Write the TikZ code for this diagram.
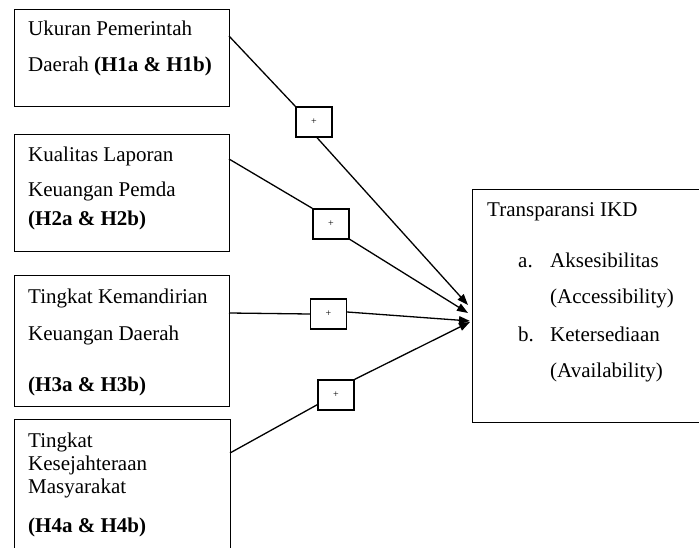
\documentclass[tikz,border=0pt]{standalone}
\usepackage{fontspec}
\setmainfont{Liberation Serif}
\usetikzlibrary{arrows.meta,calc}
\begin{document}
\begin{tikzpicture}[x=1pt,y=-1pt,
  box/.style={draw,line width=1.4pt,inner sep=0pt,anchor=north west},
  pbox/.style={draw,line width=1.3pt,inner sep=0pt,minimum width=36pt,minimum height=30pt,font=\fontsize{10}{12}\selectfont},
  txt/.style={anchor=base west,inner sep=0pt,font=\fontsize{21}{24}\selectfont},
  conn/.style={line width=1.3pt},
  arr/.style={line width=1.3pt,-{Triangle[length=11pt,width=8pt]}}]
\useasboundingbox (0,0) rectangle (699,548);
\clip (0,0) rectangle (699,548);
% source boxes
\node[box,minimum width=215pt,minimum height=97pt] (b1) at (14,9) {};
\node[box,minimum width=215pt,minimum height=117pt] (b2) at (14,134) {};
\node[box,minimum width=215pt,minimum height=131pt] (b3) at (14,275) {};
\node[box,minimum width=216pt,minimum height=150pt] (b4) at (14,419) {};
% target box
\node[box,minimum width=250pt,minimum height=233pt] (t) at (472,189) {};
% texts
\node[txt] (t11) at (28,36) {Ukuran Pemerintah};
\node[txt] (t12) at (28,72) {Daerah \textbf{(H1a \& H1b)}};
\node[txt] (t21) at (28,162) {Kualitas Laporan};
\node[txt] (t22) at (28,197) {Keuangan Pemda};
\node[txt] (t23) at (28,226) {\textbf{(H2a \& H2b)}};
\node[txt] (t31) at (28,303) {Tingkat Kemandirian};
\node[txt] (t32) at (28,340) {Keuangan Daerah};
\node[txt] (t33) at (28,391) {\textbf{(H3a \& H3b)}};
\node[txt] (t41) at (28,447) {Tingkat};
\node[txt] (t42) at (28,470) {Kesejahteraan};
\node[txt] (t43) at (28,493) {Masyarakat};
\node[txt] (t44) at (28,532) {\textbf{(H4a \& H4b)}};
\node[txt] (r0) at (487,217) {Transparansi IKD};
\node[txt] (ra) at (518,268) {a.};
\node[txt] (ra1) at (550,268) {Aksesibilitas};
\node[txt] (ra2) at (550,303) {(Accessibility)};
\node[txt] (rb) at (518,341) {b.};
\node[txt] (rb1) at (550,341) {Ketersediaan};
\node[txt] (rb2) at (550,377) {(Availability)};
% plus boxes
\node[pbox] (p1) at (314,122) {+};
\node[pbox] (p2) at (331,224) {+};
\node[pbox] (p3) at (328.5,314) {+};
\node[pbox] (p4) at (336,395) {+};
% connector end points
\coordinate (o1) at (229,36);
\coordinate (o2) at (229,159);
\coordinate (o3) at (229,313);
\coordinate (o4) at (230,453);
\coordinate (e1) at (468,305);
\coordinate (e2) at (468,313);
\coordinate (e3) at (470,321);
\coordinate (e4) at (470,322);
% connectors
\draw[conn] (o1) -- (p1.north west);
\draw[arr] ($(p1.south)+(3,0)$) -- (e1);
\draw[conn] (o2) -- (p2.north west);
\draw[arr] ($(p2.south east)+(-1,-1)$) -- (e2);
\draw[conn] (o3) -- (p3.west);
\draw[arr] ($(p3.east)+(0,-2)$) -- (e3);
\draw[conn] (o4) -- ($(p4.south west)+(0,-6)$);
\draw[arr] (p4.north east) -- (e4);
\end{tikzpicture}
\end{document}
